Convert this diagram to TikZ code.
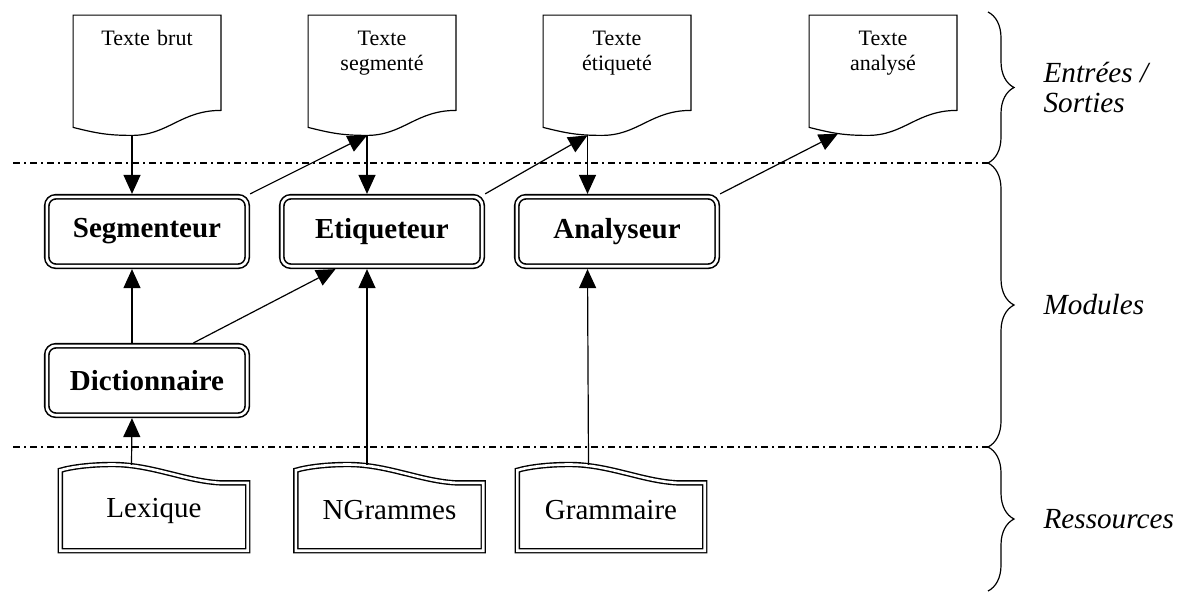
\documentclass[tikz,border=0pt]{standalone}
\usepackage{fontspec}
\setmainfont{Liberation Serif}
\usetikzlibrary{arrows.meta,decorations.pathreplacing,positioning}

\tikzset{
  fleche/.style={-{Triangle[length=9.5pt,width=8.5pt]}, line width=0.6pt},
  module/.style={draw, double, line width=0.8pt, double distance=1.3pt, rounded corners=4.5pt,
    minimum width=100.2pt, minimum height=34.7pt, inner sep=0pt, outer sep=1.45pt,
    font=\fontsize{14.5}{17}\selectfont\bfseries},
  fichier/.style={inner sep=0pt, minimum width=73.5pt, text width=70pt, align=center,
    text height=15pt, text depth=44.75pt, font=\fontsize{11}{12.5}\selectfont},
  ressource/.style={inner sep=0pt, minimum width=93.3pt, minimum height=39.8pt,
    font=\fontsize{14.5}{17}\selectfont},
  contour/.style={line width=0.6pt},
  bord/.style={double, line width=0.7pt, double distance=1.3pt},
  separation/.style={line width=0.6pt, dash pattern=on 3.5pt off 2pt on 1pt off 2pt},
  accolade/.style={decorate, decoration={brace, amplitude=13pt}, line width=0.6pt},
  niveau/.style={midway, right=27.5pt, inner sep=0pt, align=left,
    font=\fontsize{14.6}{15}\selectfont\itshape}
}

\begin{document}
\begin{tikzpicture}[x=0.5pt, y=-0.5pt, node distance=117.5pt]
  \useasboundingbox (0,0) rectangle (1182,594);
  % modules
  \node (Seg) [module] at (147,231.5) {Segmenteur};
  \node (Eti) [module, right of=Seg] {Etiqueteur};
  \node (Ana) [module, right of=Eti] {Analyseur};
  \node (Dic) [module, below of=Seg, node distance=74.5pt] {Dictionnaire};
  % entrees / sorties
  \node (Brut) [fichier, above of=Seg, node distance=78.125pt] {Texte brut};
  \node (TSeg) [fichier, above of=Eti, node distance=78.125pt] {Texte\\segmenté};
  \node (TEti) [fichier, above of=Ana, node distance=78.125pt] {Texte\\étiqueté};
  \node (TAna) [fichier, right of=TEti, node distance=133pt] {Texte\\analysé};
  \foreach \n in {Brut,TSeg,TEti,TAna}
    \draw[contour] (\n.north west) -- (\n.north east) -- ([yshift=12.5pt]\n.south east)
      .. controls +(-20pt,0pt) and +(18pt,0pt) .. ([xshift=-7.5pt]\n.south)
      .. controls +(-12pt,0pt) and +(12pt,-3pt) .. ([yshift=4pt]\n.south west) -- cycle;
  % ressources
  \node (Lex) [ressource] at (154,510.5) {Lexique};
  \node (NGr) [ressource] at (389.5,510.5) {NGrammes};
  \node (Gra) [ressource] at (611,510.5) {Grammaire};
  \foreach \n in {Lex,NGr,Gra}
    \draw[bord] (\n.north west)
      .. controls +(6pt,1.8pt) and +(-10pt,0pt) .. ([xshift=26pt,yshift=2.9pt]\n.north west)
      .. controls +(20pt,0pt) and +(-18pt,0.8pt) .. ([xshift=80.5pt,yshift=-6.3pt]\n.north west)
      -- ([yshift=-6.3pt]\n.north east) -- (\n.south east) -- (\n.south west) -- cycle;
  % separations et accolades
  \coordinate (H) at (988,12);
  \coordinate (S1) at (988,163);
  \coordinate (S2) at (988,447);
  \coordinate (B) at (988,591);
  \draw[separation] (13,163) -- (S1);
  \draw[separation] (13,447) -- (S2);
  \draw[accolade] (H) -- (S1) node[niveau] {Entrées /\\Sorties};
  \draw[accolade] (S1) -- (S2) node[niveau] {Modules};
  \draw[accolade] (S2) -- (B) node[niveau] {Ressources};
  % fleches
  \path[fleche]
    ([xshift=-7.5pt]Brut.south) edge ([xshift=-7.5pt]Seg.north)
    (Seg.north east) edge ([xshift=-7.5pt]TSeg.south)
    ([xshift=-7.5pt]TSeg.south) edge ([xshift=-7.5pt]Eti.north)
    (Eti.north east) edge ([xshift=-14.75pt]TEti.south)
    ([xshift=-14.75pt]TEti.south) edge ([xshift=-14.75pt]Ana.north)
    (Ana.north east) edge ([xshift=-22.5pt,yshift=0.9pt]TAna.south)
    ([xshift=-7.5pt]Dic.north) edge ([xshift=-7.5pt]Seg.south)
    ([xshift=23.25pt]Dic.north) edge ([xshift=-23.25pt]Eti.south)
    ([xshift=-11.25pt,yshift=2.7pt]Lex.north) edge ([xshift=-7.5pt]Dic.south)
    ([xshift=-11.25pt,yshift=2.7pt]NGr.north) edge ([xshift=-7.5pt]Eti.south)
    ([xshift=-11.25pt,yshift=2.7pt]Gra.north) edge ([xshift=-14.75pt]Ana.south);
\end{tikzpicture}
\end{document}
